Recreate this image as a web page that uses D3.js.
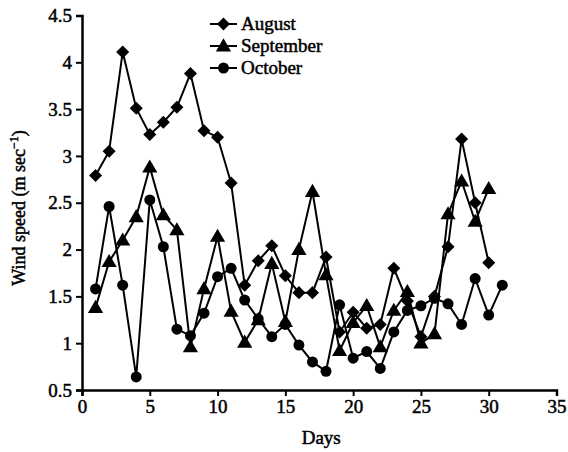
<!DOCTYPE html>
<html><head><meta charset="utf-8">
<script src="https://cdn.jsdelivr.net/npm/d3@7"></script>
<style>body{margin:0;background:#fff;} text{font-family:"Liberation Serif","Times New Roman",serif;fill:#000;}</style>
</head><body><svg id="c" width="568" height="452"></svg>
<script>
const seriesNames = ["August", "September", "October"];
const august = [2.79,3.05,4.11,3.51,3.23,3.36,3.52,3.88,3.27,3.20,2.71,1.62,1.88,2.04,1.72,1.54,1.54,1.92,1.12,1.33,1.16,1.20,1.80,1.45,1.07,1.50,2.03,3.18,2.50,1.86];
const september = [1.38,1.87,2.10,2.35,2.88,2.37,2.21,0.96,1.58,2.14,1.34,1.01,1.25,1.85,1.23,2.00,2.62,1.73,0.92,1.22,1.40,0.96,1.35,1.55,1.00,1.10,2.38,2.73,2.30,2.65];
const october = [1.58,2.46,1.62,0.64,2.53,2.03,1.15,1.08,1.32,1.71,1.80,1.46,1.26,1.07,1.20,0.98,0.80,0.70,1.41,0.84,0.91,0.73,1.12,1.35,1.40,1.48,1.42,1.20,1.69,1.30,1.62];
const xTicks = [0,5,10,15,20,25,30,35];
const yTicks = [0.5,1,1.5,2,2.5,3,3.5,4,4.5];

const svg = d3.select("#c");
const m = {l:82, r:556.5, t:15.5, b:390};
const x = d3.scaleLinear().domain([0,35]).range([m.l, m.r]);
const y = d3.scaleLinear().domain([0.5,4.5]).range([m.b, m.t]);

const fs = 19;
const xa = svg.append("g").attr("transform",`translate(0,${m.b})`)
  .call(d3.axisBottom(x).tickValues(xTicks).tickSize(6).tickPadding(4).tickFormat(d3.format("d")));
const ya = svg.append("g").attr("transform",`translate(${m.l},0)`)
  .call(d3.axisLeft(y).tickValues(yTicks).tickSize(6).tickPadding(4).tickFormat(d=>String(d)));
[xa,ya].forEach(a=>{
  a.selectAll("path").attr("stroke","#000").attr("stroke-width",2.5);
  a.selectAll("line").attr("stroke","#000").attr("stroke-width",2);
  a.selectAll("text").attr("font-size",fs).attr("font-family","Liberation Serif").attr("fill","#000").attr("stroke","#000").attr("stroke-width",0.5);
});

svg.append("text").attr("x",(m.l+m.r)/2+2).attr("y",444).attr("text-anchor","middle")
  .attr("font-size",fs).attr("stroke","#000").attr("stroke-width",0.5).text("Days");
const yl = svg.append("text").attr("transform","translate(25,208) rotate(-90)").attr("text-anchor","middle")
  .attr("font-size",fs-1).attr("stroke","#000").attr("stroke-width",0.5);
yl.append("tspan").text("Wind speed (m sec");
yl.append("tspan").attr("dy",-7).attr("font-size",12).text("−1");
yl.append("tspan").attr("dy",7).text(")");

const data = [august, september, october];
const shapes = [d3.symbolSquare, d3.symbolTriangle, d3.symbolCircle];
const sizes = [85, 100, 95];
const rot = [45, 0, 0];
const dy = [0, 1, 0];
const line = d3.line().x((d,i)=>x(i+1)).y(d=>y(d));

data.forEach(arr=>{
  svg.append("path").datum(arr).attr("d",line).attr("fill","none").attr("stroke","#000").attr("stroke-width",2);
});
data.forEach((arr,k)=>{
  svg.append("g").selectAll("path").data(arr).join("path")
    .attr("transform",(d,i)=>`translate(${x(i+1)},${y(d)+dy[k]}) rotate(${rot[k]})`)
    .attr("d",d3.symbol().type(shapes[k]).size(sizes[k])).attr("fill","#000");
});

const lg = svg.append("g");
seriesNames.forEach((n,k)=>{
  const yy = 24 + k*22;
  lg.append("line").attr("x1",210).attr("x2",237).attr("y1",yy).attr("y2",yy).attr("stroke","#000").attr("stroke-width",2);
  lg.append("path").attr("transform",`translate(223.5,${yy+dy[k]}) rotate(${rot[k]})`).attr("d",d3.symbol().type(shapes[k]).size(sizes[k])).attr("fill","#000");
  lg.append("text").attr("x",241).attr("y",yy+6).attr("font-size",fs).attr("stroke","#000").attr("stroke-width",0.5).text(n);
});
</script></body></html>
